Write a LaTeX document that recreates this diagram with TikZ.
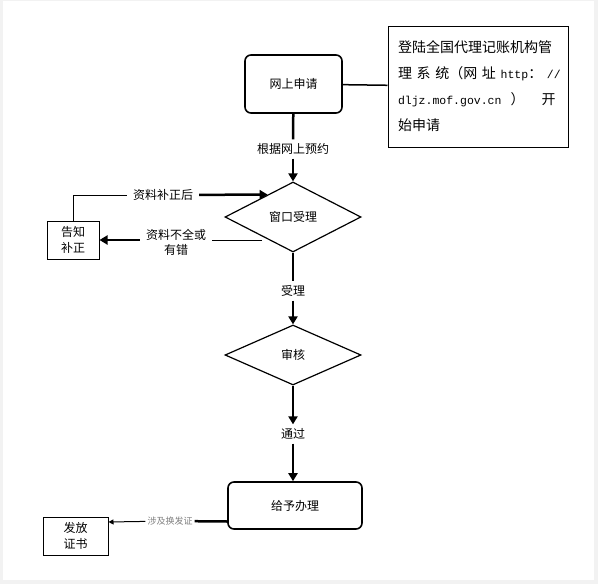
\documentclass[tikz,border=0pt]{standalone}
\usepackage{fontspec}
\setmainfont{Noto Sans CJK SC}
\setmonofont{Liberation Mono}
\usetikzlibrary{positioning}
\usetikzlibrary{shapes.geometric}
\usetikzlibrary{arrows.meta}
\usetikzlibrary{calc}
\tikzset{roundbox/.style = {draw, rounded corners=6pt, line width=1.6pt,
                            font=\fontsize{12}{14}\selectfont}}
\tikzset{plainbox/.style = {draw, line width=1pt, inner sep=0, align=center,
                            font=\fontsize{12}{16}\selectfont}}
\tikzset{decide/.style = {draw, diamond, line width=1.2pt, inner sep=0,
                          font=\fontsize{12}{14}\selectfont}}
\tikzset{flow/.style = {line width=2.5pt, -{Triangle[length=8pt,width=9pt]}}}
\tikzset{link/.style = {line width=2.5pt}}
\tikzset{thinlink/.style = {line width=1pt}}
\tikzset{tag/.style = {inner xsep=6pt, inner ysep=4pt, align=center,
                       font=\fontsize{12}{15}\selectfont}}
\newcommand{\urlfont}{\ttfamily\fontsize{11.5}{26}\selectfont}
\begin{document}
\begin{tikzpicture}[x=1pt, y=-1pt]
  % page frame
  \fill[gray!10] (0,0) rectangle (598,584);
  \fill[white] (3,1) rectangle (594,580);
  \useasboundingbox (0,0) rectangle (598,584);
  % boxes
  \node[roundbox, minimum width=97pt, minimum height=58pt] (apply) at (293.5,84) {网上申请};
  \node[draw, line width=1pt, minimum width=180pt, minimum height=121pt,
        text width=160pt, align=left, font=\fontsize{14}{26}\selectfont] (note) at (478,86.5)
    {登陆全国代理记账机构管\\
     \makebox[153pt][s]{理 系 统（网 址 {\urlfont http}： {\urlfont //}}\\
     {\urlfont dljz.mof.gov.cn}\hspace{9pt}）\hspace{17pt}开\\
     始申请};
  \node[decide, minimum width=136pt, minimum height=70pt] (window) at (293,217) {窗口受理};
  \node[decide, minimum width=136pt, minimum height=60pt] (review) at (293,355) {审核};
  \node[roundbox, minimum width=134pt, minimum height=47pt] (deal) at (295,505.5) {给予办理};
  \node[plainbox, minimum width=52pt, minimum height=38pt] (fix) at (73,240) {告知\\补正};
  \node[plainbox, minimum width=65pt, minimum height=38pt] (cert) at (75.5,536) {发放\\证书};
  % labels
  \node[tag] (book) at (293,149) {根据网上预约};
  \node[tag] (accept) at (293,291) {受理};
  \node[tag] (pass) at (293,434) {通过};
  \node[tag] (fixed) at (163,195) {资料补正后};
  \node[tag] (lack) at (176,242) {资料不全或\\有错};
  \node[inner sep=2pt, text=gray, font=\fontsize{9}{10}\selectfont] (renew) at (170,521) {涉及换发证};
  \coordinate (lackstart) at (262,240);
  % connectors
  \draw[line width=1.5pt] (apply) -- (note);
  \draw[link] (apply) -- (book);
  \draw[flow] (book) -- (window);
  \draw[link] (window) -- (accept);
  \draw[flow] (accept) -- (review);
  \draw[flow] (review) -- (pass);
  \draw[flow] (pass) -- (pass |- deal.north);
  \draw[thinlink] (fix.north) |- (fixed);
  \draw[flow] (fixed) -- ($(window.north)!0.37!(window.west)$);
  \draw[thinlink] (lackstart) -- (lackstart -| lack.east);
  \draw[flow] (lack.west |- fix.east) -- (fix.east);
  \draw[link] ([yshift=-16pt]deal.west) -- (renew);
  \draw[thinlink, -{Triangle[length=5pt,width=5pt]}] (renew) -- ([yshift=14pt]cert.east);
\end{tikzpicture}
\end{document}
